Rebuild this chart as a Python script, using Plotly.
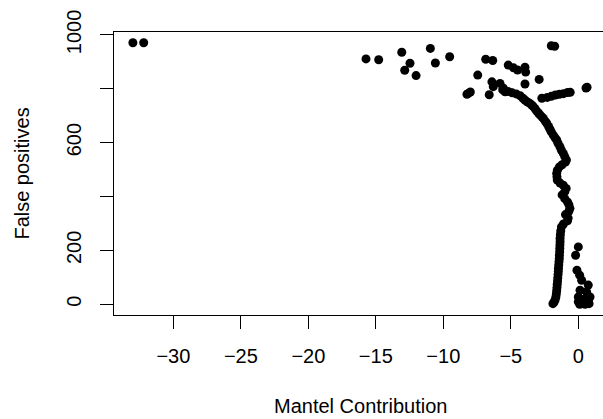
import plotly.graph_objects as go

# main curve, top to bottom
curve_x = [-5.6, -5.2, -4.9, -4.6, -4.3, -4.1, -3.95, -3.8, -3.6, -3.45, -3.33, -3.2, -3.08, -2.95, -2.84,
           -2.7, -2.59, -2.45, -2.34, -2.2, -2.1, -2.0, -1.85, -1.72, -1.6, -1.5, -1.36, -1.25, -1.11, -1.0,
           -0.88, -0.95, -1.2, -1.4, -1.55, -1.6, -1.58, -1.56, -1.35, -1.11, -0.9, -1.0, -1.2, -1.0, -0.8,
           -0.7, -0.62, -0.7, -0.95, -0.75, -0.8, -1.1, -1.25, -1.3, -1.33, -1.35, -1.35, -1.36, -1.37, -1.38,
           -1.4, -1.41, -1.43, -1.45, -1.47, -1.48, -1.5, -1.52, -1.54, -1.56, -1.58, -1.6, -1.63, -1.66,
           -1.72, -1.8, -1.88]
curve_y = [796, 790, 785, 781, 774, 765, 758, 752, 746, 740, 734, 726, 717, 710, 703,
           696, 690, 680, 672, 660, 650, 640, 628, 618, 610, 598, 585, 572, 560, 548,
           536, 528, 518, 510, 498, 486, 473, 461, 450, 442, 430, 418, 406, 392, 380,
           370, 356, 345, 333, 320, 310, 298, 287, 272, 258, 245, 232, 220, 208, 195,
           182, 170, 158, 146, 134, 122, 110, 98, 86, 74, 62, 50, 38, 27,
           16, 7, 2]

# branch going right at ~780
branch_x = [-2.7, -2.3, -2.0, -1.7, -1.4, -1.1, -0.8, -0.6]
branch_y = [765, 768, 772, 777, 780, 782, 786, 787]

# scattered points in the upper part
upper_x = [-6.6, -8.15, -8.0, -8.25, -6.3, -6.4, -5.8, -5.55, -5.43, -3.95, -2.9, 0.57, 0.65,
           -5.19, -4.8, -4.5, -3.95, -3.9, -6.86, -6.34, -7.45, -9.53, -10.59, -10.96, -12.02,
           -12.86, -12.47, -13.08, -14.79, -15.73, -33.0, -32.2, -2.0, -1.75]
upper_y = [778, 783, 788, 780, 808, 826, 820, 802, 789, 818, 835, 803, 806,
           888, 878, 870, 880, 862, 910, 905, 851, 919, 896, 950, 849,
           869, 895, 936, 908, 911, 971, 971, 960, 958]

# cluster near zero
low_x = [0.0, -0.2, -0.1, 0.1, 0.25, 0.74, 0.13, 0.62, 0.0, 0.5, 0.87, 0.0, 0.37, 0.74, 0.1, 0.5, 0.8, 0.25]
low_y = [213, 182, 126, 108, 89, 71, 52, 46, 27, 21, 27, 9, 9, 9, 0, 0, 2, 2]

x = curve_x + branch_x + upper_x + low_x
y = curve_y + branch_y + upper_y + low_y

fig = go.Figure(go.Scatter(x=x, y=y, mode='markers',
                           marker=dict(color='black', size=9)))

font = dict(family='Liberation Sans, Arial, sans-serif', size=20, color='black')
fig.update_layout(width=603, height=419, plot_bgcolor='white', paper_bgcolor='white',
                  margin=dict(l=114, r=0, t=32, b=104), showlegend=False, font=font)
fig.update_xaxes(range=[-34.4, 1.83], tickvals=[-30, -25, -20, -15, -10, -5, 0],
                 ticktext=['\u221230', '\u221225', '\u221220', '\u221215', '\u221210', '\u22125', '0'],
                 showgrid=False, zeroline=False, showline=True, linecolor='black', linewidth=1,
                 mirror=True, ticks='outside', ticklen=13, tickcolor='black',
                 ticklabelstandoff=10, automargin=False)
fig.update_yaxes(range=[-40, 1011], tickvals=[0, 200, 400, 600, 800, 1000],
                 ticktext=['0', '200', '', '600', '', '1000'],
                 showgrid=False, zeroline=False, showline=True, linecolor='black', linewidth=1,
                 ticks='outside', ticklen=13, tickcolor='black', tickangle=-90,
                 ticklabelstandoff=11, automargin=False)

# axis titles placed like R's default mgp
fig.add_annotation(text='Mantel Contribution', xref='paper', yref='paper', x=0.504, y=-0.322,
                   xanchor='center', yanchor='middle', showarrow=False)
fig.add_annotation(text='False positives', xref='paper', yref='paper', x=-0.19, y=0.5,
                   xanchor='center', yanchor='middle', textangle=-90, showarrow=False)

# drop the browser's default body margin so the figure sits at the page corner
fig.write_html('out.html', config={'displayModeBar': False},
               post_script="document.body.style.margin='0';")
